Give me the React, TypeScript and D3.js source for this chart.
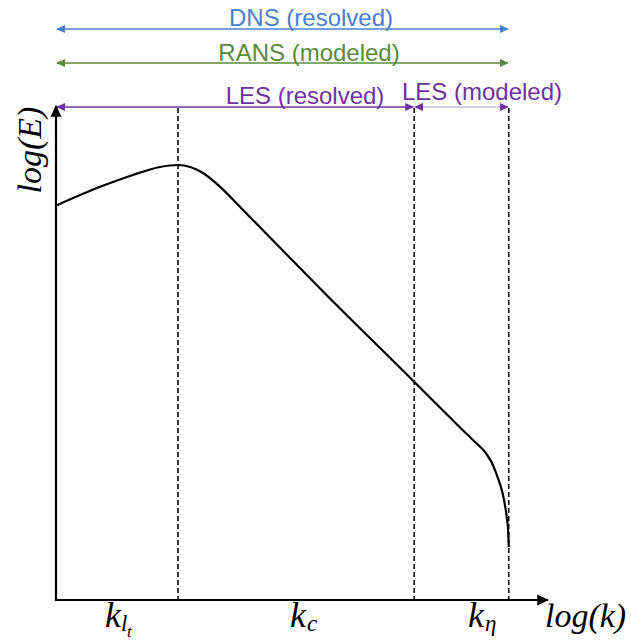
import React from "react";
import * as d3 from "d3";

// ---- data ----
const curveK = [0.02, 0.9, 1.57, 2.12, 2.49, 3.0, 3.35, 3.82, 5.5, 7.31, 8.0, 8.4, 8.6, 8.76, 8.96, 9.22, 9.24];
const curveE = [7.96, 8.33, 8.57, 8.73, 8.77, 8.61, 8.33, 7.86, 6.17, 4.4, 3.72, 3.33, 3.14, 2.98, 2.62, 1.51, 1.07];
const cutoffNames = ["lt", "c", "eta"];
const cutoffK = [2.49, 7.31, 9.24];
const rangeLabels = ["DNS (resolved)", "RANS (modeled)", "LES (resolved)", "LES (modeled)"];
const rangeStart = [0, 0, 0, 7.31];
const rangeEnd = [9.24, 9.24, 7.31, 9.24];

const W = 631, H = 641;
const X0 = 56, X1 = 546, Y0 = 600, Y1 = 104;

export default function App() {
  const x = d3.scaleLinear().domain([0, 10]).range([X0, X1]);
  const y = d3.scaleLinear().domain([0, 10]).range([Y0, Y1]);
  const pts = curveK.map((k, i) => [x(k), y(curveE[i])] as [number, number]);
  const line = d3.line().curve(d3.curveMonotoneX)(pts) || "";

  const rangeColor = ["#4a7fd0", "#5a8a3a", "#7030a0", "#7030a0"];
  const lineColor = ["#4a7fd0", "#5a8a3a", "#7030a0", "#a699c0"];
  const lineY = [29, 63, 107, 107];
  const labelX = [311, 309, 305, 482];
  const labelY = [26, 61, 104, 100];
  const markerIds = ["mBlue", "mGreen", "mPurple", "mPurple"];
  const sans = "'Liberation Sans', Arial, Helvetica, sans-serif";
  const serif = "'Liberation Serif', 'Times New Roman', serif";

  return (
    <svg width={W} height={H} style={{ position: "absolute", left: 0, top: 0, background: "#fff" }}>
      <defs>
        {[["mBlue", "#4a7fd0"], ["mGreen", "#5a8a3a"], ["mPurple", "#7030a0"]].map(([id, c]) => (
          <marker key={id} id={id} markerUnits="userSpaceOnUse" markerWidth={10} markerHeight={10}
            refX={8} refY={4} orient="auto-start-reverse" viewBox="0 0 10 8">
            <path d="M0,0 L9,4 L0,8 z" fill={c} />
          </marker>
        ))}
        <marker id="mBlack" markerUnits="userSpaceOnUse" markerWidth={12} markerHeight={12}
          refX={9} refY={4.5} orient="auto" viewBox="0 0 10 9">
          <path d="M0,0 L10,4.5 L0,9 z" fill="#000" />
        </marker>
      </defs>

      {/* range arrows */}
      {rangeLabels.map((lab, i) => (
        <g key={lab}>
          <line x1={x(rangeStart[i]) + 1} x2={x(rangeEnd[i]) - 1} y1={lineY[i]} y2={lineY[i]}
            stroke={lineColor[i]} strokeWidth={i === 3 ? 1.2 : 1.4}
            markerStart={`url(#${markerIds[i]})`} markerEnd={`url(#${markerIds[i]})`} />
          <text x={labelX[i]} y={labelY[i]} textAnchor="middle" fontFamily={sans} fontSize={24}
            fill={rangeColor[i]}>{lab}</text>
        </g>
      ))}

      {/* dashed cutoff lines */}
      {cutoffK.map((k, i) => (
        <line key={cutoffNames[i]} x1={x(k)} x2={x(k)} y1={108} y2={Y0} stroke="#000"
          strokeWidth={1.5} strokeDasharray="5,3" />
      ))}

      {/* axes */}
      <line x1={X0} x2={X0} y1={Y0 + 1} y2={Y1 + 2} stroke="#000" strokeWidth={2.2} markerEnd="url(#mBlack)" />
      <line x1={X0 - 1} x2={548} y1={Y0} y2={Y0} stroke="#000" strokeWidth={2.2} markerEnd="url(#mBlack)" />

      {/* spectrum */}
      <path d={line} fill="none" stroke="#000" strokeWidth={2.2} />

      {/* axis labels */}
      <text transform="translate(41,150) rotate(-90)" textAnchor="middle" fontFamily={serif}
        fontStyle="italic" fontSize={34}>log(E)</text>
      <text x={545} y={627} fontFamily={serif} fontStyle="italic" fontSize={34}>log(k)</text>

      {/* cutoff labels */}
      <g fontFamily={serif} fontStyle="italic">
        <text x={105} y={627} fontSize={36}>k</text>
        <text x={121} y={631} fontSize={23}>l</text>
        <text x={127} y={637} fontSize={17}>t</text>

        <text x={290} y={627} fontSize={36}>k</text>
        <text x={307} y={631} fontSize={23}>c</text>

        <text x={468} y={627} fontSize={36}>k</text>
        <text x={485} y={631} fontSize={23}>η</text>
      </g>
    </svg>
  );
}
